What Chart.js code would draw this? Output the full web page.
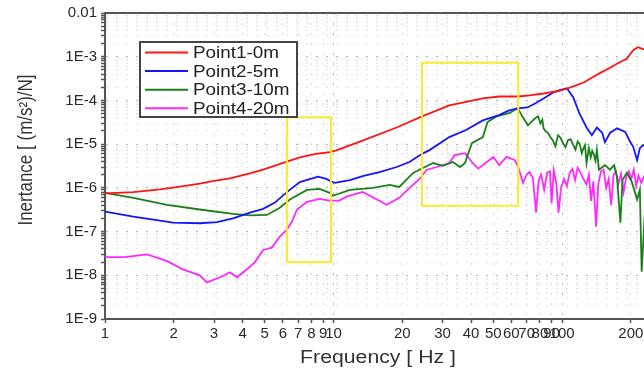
<!DOCTYPE html>
<html>
<head>
<meta charset="utf-8">
<title>Inertance</title>
<script src="https://cdn.jsdelivr.net/npm/chart.js@4.4.0/dist/chart.umd.min.js"></script>
<style>
    html, body { margin: 0; padding: 0; background: #fff; overflow: hidden; }
    #wrap { width: 690px; height: 372px; }
</style>
</head>
<body>
<div id="wrap"><canvas id="inertanceChart" width="690" height="372"></canvas></div>
<script>
// Inertance vs frequency for four measuring points

const FONT = "'Liberation Sans', Arial, sans-serif";

// Axis ticks
const xTickValues = [1, 2, 3, 4, 5, 6, 7, 8, 9, 10, 20, 30, 40, 50, 60, 70, 80, 90, 100, 200];
const yTickValues = [1e-9, 1e-8, 1e-7, 1e-6, 1e-5, 1e-4, 1e-3, 1e-2];
const yTickLabels = ['1E-9', '1E-8', '1E-7', '1E-6', '1E-5', '1E-4', '1E-3', '0.01'];

const seriesLabels = ['Point1-0m', 'Point2-5m', 'Point3-10m', 'Point4-20m'];
const seriesColors = ['#ff1414', '#1414ff', '#1a801a', '#ff28ff'];

// Point1-0m
const freq1 = [1, 1.33, 1.74, 2.02, 2.6, 3.0, 3.52, 4.31, 4.92, 6.25, 7.12, 8.27, 9.62, 10.3, 13.4, 18.9, 24.4, 32.1, 45, 53, 64, 72, 83, 97, 105, 112, 125, 135, 145, 162, 177, 192, 200, 206, 215, 226, 254];
const inert1 = [7.5e-7, 8.0e-7, 9.2e-7, 1.02e-6, 1.25e-6, 1.45e-6, 1.65e-6, 2.15e-6, 2.6e-6, 4.0e-6, 5.0e-6, 5.9e-6, 6.6e-6, 7.2e-6, 1.2e-5, 2.4e-5, 4.3e-5, 7.7e-5, 1.11e-4, 1.23e-4, 1.23e-4, 1.3e-4, 1.44e-4, 1.65e-4, 1.85e-4, 2.1e-4, 2.6e-4, 3.3e-4, 4.1e-4, 5.6e-4, 7.3e-4, 9.0e-4, 1.2e-3, 1.45e-3, 1.65e-3, 1.5e-3, 1.3e-3];

// Point2-5m
const freq2 = [1, 1.33, 1.74, 1.98, 2.6, 3.09, 3.63, 4.31, 4.92, 5.54, 6.25, 7.12, 8.55, 9.3, 9.62, 10.1, 11.8, 13.4, 15.9, 18.9, 21.5, 24.4, 26.3, 32.1, 38, 45, 53, 58.7, 64, 70.5, 76.2, 83, 91, 97, 105, 112, 119, 128, 135, 142, 150, 154, 162, 174, 189, 197, 205, 213, 219, 226, 254];
const inert2 = [2.85e-7, 2.2e-7, 1.78e-7, 1.6e-7, 1.55e-7, 1.65e-7, 2.0e-7, 2.7e-7, 3.3e-7, 4.6e-7, 8.0e-7, 1.35e-6, 1.8e-6, 1.6e-6, 1.45e-6, 1.3e-6, 1.5e-6, 1.85e-6, 2.3e-6, 3.0e-6, 3.9e-6, 6.0e-6, 7.3e-6, 1.45e-5, 2.1e-5, 3.5e-5, 4.6e-5, 5.9e-5, 6.6e-5, 6.9e-5, 8.5e-5, 1.11e-4, 1.5e-4, 1.7e-4, 1.9e-4, 1.17e-4, 5.1e-5, 2.4e-5, 1.6e-5, 2.4e-5, 1.8e-5, 1.11e-5, 1.8e-5, 2.3e-5, 1.9e-5, 1.23e-5, 8.6e-6, 4.3e-6, 8.1e-6, 9.5e-6, 7.3e-6];

// Point3-10m
const freq3 = [1, 1.33, 1.87, 2.6, 3.63, 4.31, 5.11, 5.82, 6.44, 7.65, 8.7, 9.62, 9.93, 11.8, 14.9, 17.6, 19.4, 22.3, 24.6, 27.3, 30.1, 33.3, 35.8, 37.6, 40.3, 45, 47.2, 51.6, 58.7, 64, 67.4, 70.9, 76.2, 78.5, 80.5, 82, 83, 84.5, 86.9, 88.5, 91, 93.5, 96, 98.5, 101, 103.5, 106, 109, 112, 114.5, 117, 119.5, 122, 124, 126, 128, 131, 133.5, 135.5, 138, 140, 142, 145, 154, 162, 169, 174, 180, 184, 192, 202, 213, 219, 223, 230, 254];
const inert3 = [7.7e-7, 5.9e-7, 4.1e-7, 3.2e-7, 2.55e-7, 2.35e-7, 2.4e-7, 3.5e-7, 5.4e-7, 9.0e-7, 9.5e-7, 7.7e-7, 6.6e-7, 9.0e-7, 1.0e-6, 1.17e-6, 1.05e-6, 2.2e-6, 2.85e-6, 3.7e-6, 3.2e-6, 3.9e-6, 3.0e-6, 3.7e-6, 1.05e-5, 1.45e-5, 3.2e-5, 4.3e-5, 5.1e-5, 6.6e-5, 4.1e-5, 2.7e-5, 3.9e-5, 4.3e-5, 3.0e-5, 3.6e-5, 2.3e-5, 2.0e-5, 1.8e-5, 1.5e-5, 1.23e-5, 9.0e-6, 1.6e-5, 1.4e-5, 1.05e-5, 8.5e-6, 1.23e-5, 1.3e-5, 9.5e-6, 7.5e-6, 1.15e-5, 1.0e-5, 6.2e-6, 8.0e-6, 9.5e-6, 3.7e-6, 8.1e-6, 5.0e-6, 7.0e-6, 5.6e-6, 4.2e-6, 7.3e-6, 2.6e-6, 3.3e-6, 2.6e-6, 3.3e-6, 1.78e-6, 1.6e-7, 1.52e-6, 2.2e-6, 1.37e-6, 5.4e-7, 9.0e-7, 1.2e-8, 2.4e-7, 5.4e-7];

// Point4-20m
const freq4 = [1, 1.22, 1.53, 1.87, 2.19, 2.6, 2.79, 3.19, 3.52, 3.78, 4.18, 4.53, 4.92, 5.37, 5.82, 6.25, 6.58, 6.92, 7.65, 8.7, 9.62, 10.6, 11.4, 13.4, 15.5, 17.1, 19.4, 21.5, 23.8, 25.6, 28.3, 32.1, 33.9, 37.6, 40.3, 42.9, 46.9, 50, 53.1, 57.2, 62.2, 64.3, 65.5, 67.5, 70, 72, 74.5, 77, 79, 81, 83.5, 86, 88.5, 90, 92, 94.5, 96.5, 99, 102, 105, 108, 111, 114, 117, 120, 124, 128, 131, 134, 137, 141, 144, 148, 152, 156, 160, 164, 168, 172, 176, 181, 186, 191, 196, 201, 206, 211, 216, 222, 228, 240, 254];
const inert4 = [2.6e-8, 2.6e-8, 3.0e-8, 2.1e-8, 1.37e-8, 1.0e-8, 6.9e-9, 9.0e-9, 1.17e-8, 9.0e-9, 1.37e-8, 2.0e-8, 3.8e-8, 4.3e-8, 7.7e-8, 1.11e-7, 1.69e-7, 3.2e-7, 4.8e-7, 5.6e-7, 5.1e-7, 5.1e-7, 6.3e-7, 8.1e-7, 5.4e-7, 4.1e-7, 5.9e-7, 1.0e-6, 1.6e-6, 2.6e-6, 3.0e-6, 3.7e-6, 5.6e-6, 6.2e-6, 3.9e-6, 2.75e-6, 3.9e-6, 5.1e-6, 3.3e-6, 5.1e-6, 4.3e-6, 3.0e-6, 2.2e-6, 1.3e-6, 2.0e-6, 2.3e-6, 1.7e-6, 2.7e-7, 1.5e-6, 2.0e-6, 9.0e-7, 2.2e-6, 2.4e-6, 4.5e-7, 2.5e-6, 1.2e-6, 2.7e-7, 1.0e-6, 1.6e-6, 1.1e-6, 2.2e-6, 2.7e-6, 1.5e-6, 2.9e-6, 2.3e-6, 1.6e-6, 1.2e-6, 2.0e-6, 5.0e-7, 1.4e-6, 1.3e-7, 1.2e-6, 2.4e-6, 2.6e-6, 1.0e-6, 1.6e-6, 4.0e-7, 2.0e-6, 2.4e-6, 1.2e-6, 2.1e-6, 8.0e-7, 1.8e-6, 2.4e-6, 1.6e-6, 2.6e-6, 1.1e-6, 1.9e-6, 1.3e-6, 1.8e-6, 1.5e-6, 1.7e-6];

// Yellow highlight boxes (frequency range, inertance range)
const boxFreqFrom = [6.25, 24.4];
const boxFreqTo = [9.75, 64.3];
const boxTop = [4.1e-5, 7.3e-4];
const boxBottom = [2.0e-8, 3.9e-7];

const freqs = [freq1, freq2, freq3, freq4];
const inerts = [inert1, inert2, inert3, inert4];

// Helper: text stretched horizontally like the original picture
function wideText(ctx, text, x, y, sx) {
    ctx.save();
    ctx.translate(x, y);
    ctx.scale(sx, 1);
    ctx.fillText(text, 0, 0);
    ctx.restore();
}

const decorPlugin = {
    id: 'decor',
    afterDatasetsDraw(chart) {
        const { ctx, scales: { x, y } } = chart;
        ctx.save();
        ctx.strokeStyle = '#fbe92a';
        ctx.lineWidth = 2;
        boxFreqFrom.forEach((f, i) => {
            const x1 = x.getPixelForValue(f);
            const x2 = x.getPixelForValue(boxFreqTo[i]);
            const y1 = y.getPixelForValue(boxTop[i]);
            const y2 = y.getPixelForValue(boxBottom[i]);
            ctx.strokeRect(x1, y1, x2 - x1, y2 - y1);
        });
        ctx.restore();
    },
    afterDraw(chart) {
        const { ctx, chartArea } = chart;
        ctx.save();

        // top frame line
        ctx.strokeStyle = '#555';
        ctx.lineWidth = 2;
        ctx.beginPath();
        ctx.moveTo(chartArea.left, chartArea.top);
        ctx.lineTo(chartArea.right, chartArea.top);
        ctx.stroke();

        // legend box
        ctx.fillStyle = '#fff';
        ctx.fillRect(140, 42, 157, 75);
        ctx.strokeStyle = '#444';
        ctx.lineWidth = 2;
        ctx.strokeRect(140, 42, 157, 75);
        ctx.font = '16px ' + FONT;
        ctx.textBaseline = 'middle';
        ctx.textAlign = 'left';
        chart.data.datasets.forEach((ds, i) => {
            const ly = 52.5 + i * 18.6;
            ctx.strokeStyle = ds.borderColor;
            ctx.lineWidth = 2;
            ctx.beginPath();
            ctx.moveTo(145, ly);
            ctx.lineTo(188, ly);
            ctx.stroke();
            ctx.fillStyle = '#222';
            wideText(ctx, ds.label, 193, ly + 1, 1.18);
        });

        // axis titles
        ctx.fillStyle = '#333';
        ctx.font = '18px ' + FONT;
        ctx.textAlign = 'center';
        ctx.textBaseline = 'alphabetic';
        wideText(ctx, 'Frequency [ Hz ]', (chartArea.left + chartArea.right) / 2 - 1, 363, 1.18);

        ctx.font = '17px ' + FONT;
        ctx.textBaseline = 'middle';
        ctx.translate(27, 150);
        ctx.rotate(-Math.PI / 2);
        ctx.scale(1, 1.15);
        ctx.fillText('Inertance [ (m/s\u00B2)/N]', 0, 0);
        ctx.restore();
    }
};

const ctx = document.getElementById('inertanceChart').getContext('2d');
const inertanceChart = new Chart(ctx, {
    type: 'line',
    data: {
        datasets: seriesLabels.map((label, i) => ({
            label: label,
            data: freqs[i].map((f, j) => ({ x: f, y: inerts[i][j] })),
            borderColor: seriesColors[i],
            backgroundColor: seriesColors[i],
            borderWidth: 1.8,
            pointRadius: 0,
            tension: 0,
            fill: false
        }))
    },
    options: {
        responsive: false,
        animation: false,
        devicePixelRatio: 1,
        layout: { padding: { left: 0, top: 12, right: 37, bottom: 0 } },
        plugins: {
            legend: { display: false },
            tooltip: { enabled: false }
        },
        scales: {
            x: {
                type: 'logarithmic',
                min: 1,
                max: 250,
                afterBuildTicks: scale => {
                    scale.ticks = xTickValues.map(v => ({ value: v, major: v === 1 || v === 10 || v === 100 }));
                },
                afterFit: scale => { scale.height = 53; },
                ticks: {
                    autoSkip: false,
                    maxRotation: 0,
                    minRotation: 0,
                    padding: 2,
                    color: '#2a2a2a',
                    font: { family: FONT, size: 15 },
                    callback: value => String(value)
                },
                grid: {
                    color: c => (c.tick && c.tick.major ? '#b8b8b8' : '#d6d6d6'),
                    lineWidth: 1,
                    tickLength: 4,
                    tickColor: '#555',
                    tickWidth: 1.5
                },
                border: { display: true, color: '#555', width: 2, dash: [2, 8] }
            },
            y: {
                type: 'logarithmic',
                min: 1e-9,
                max: 1e-2,
                afterBuildTicks: scale => {
                    const ticks = [];
                    yTickValues.forEach((v, i) => {
                        ticks.push({ value: v, major: true });
                        if (i < yTickValues.length - 1) {
                            for (let m = 2; m <= 9; m++) ticks.push({ value: v * m, major: false });
                        }
                    });
                    scale.ticks = ticks;
                },
                afterFit: scale => { scale.width = 105; },
                ticks: {
                    autoSkip: false,
                    padding: 4,
                    color: '#2a2a2a',
                    font: { family: FONT, size: 15 },
                    callback: value => {
                        const i = yTickValues.findIndex(v => Math.abs(v - value) < v * 1e-6);
                        return i >= 0 ? yTickLabels[i] : '';
                    }
                },
                grid: {
                    color: c => (c.tick && c.tick.major ? '#b8b8b8' : '#e2e2e2'),
                    lineWidth: 1,
                    tickLength: 4,
                    tickColor: '#555',
                    tickWidth: 1.5
                },
                border: { display: true, color: '#555', width: 2, dash: [2, 8] }
            }
        }
    },
    plugins: [decorPlugin]
});
</script>
</body>
</html>
